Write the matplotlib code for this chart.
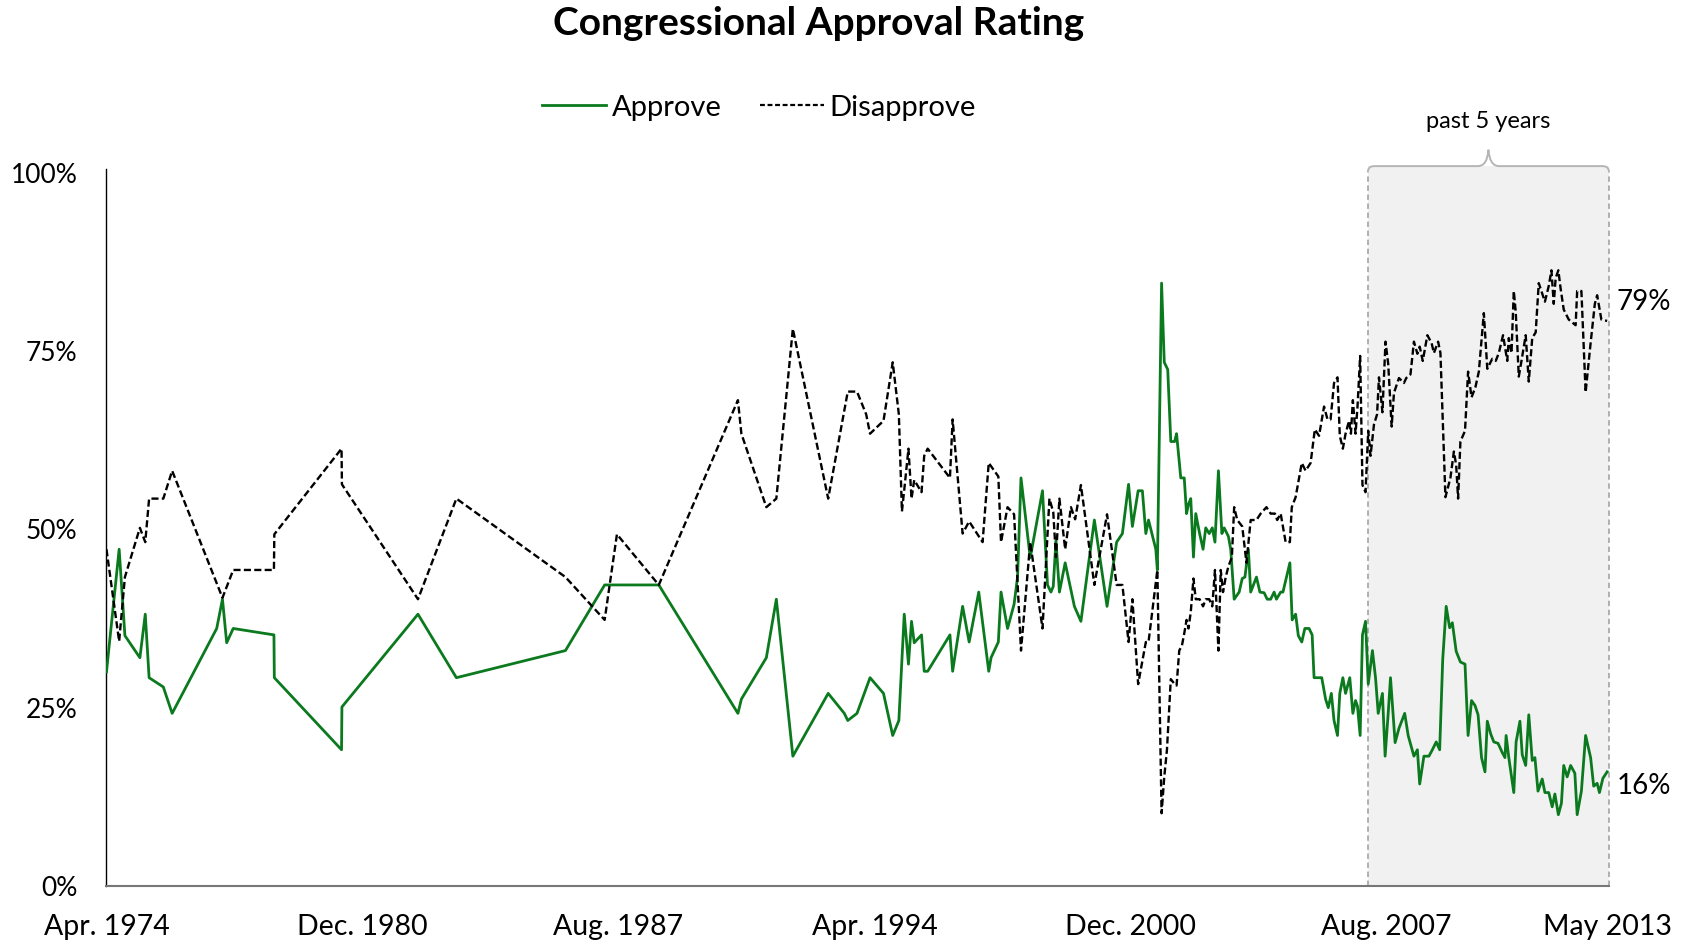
import matplotlib
matplotlib.use('Agg')
import matplotlib.pyplot as plt
from matplotlib.path import Path
from matplotlib.patches import PathPatch, Rectangle
from matplotlib.lines import Line2D

plt.rcParams.update({
    'font.family': 'Lato',
    'font.size': 19,
})

# ─── data (decimal years, percent) ───────────────────────────────────────────
approve_year = [
    1974.25, 1974.58, 1974.73, 1975.12, 1975.26, 1975.36, 1975.73, 1975.96,
    1977.12, 1977.27, 1977.38, 1977.55, 1978.61, 1978.62, 1980.37, 1980.38,
    1982.36, 1983.36, 1986.20, 1987.22, 1988.63,
    1990.69, 1990.78, 1991.43, 1991.69, 1992.12, 1993.04, 1993.46, 1993.55,
    1993.79, 1994.13, 1994.48, 1994.72, 1994.88,
    1995.02, 1995.13, 1995.21, 1995.28, 1995.47, 1995.54, 1995.63, 1996.21,
    1996.28, 1996.54, 1996.71, 1996.96, 1997.22, 1997.28, 1997.47, 1997.54,
    1997.71, 1997.88, 1997.97, 1998.06, 1998.30, 1998.62, 1998.75, 1998.84,
    1998.90, 1998.97, 1999.06, 1999.21, 1999.45, 1999.62, 1999.97, 2000.30,
    2000.55, 2000.70, 2000.86, 2000.96, 2001.11, 2001.22, 2001.31, 2001.38,
    2001.57, 2001.61, 2001.72, 2001.79, 2001.88, 2001.96, 2002.06, 2002.11,
    2002.22, 2002.31, 2002.37, 2002.42, 2002.48, 2002.55, 2002.61, 2002.71,
    2002.80, 2002.87, 2002.96, 2003.04, 2003.11, 2003.20, 2003.29, 2003.35,
    2003.46, 2003.52, 2003.61, 2003.74, 2003.82, 2003.89, 2003.98, 2004.04,
    2004.19, 2004.28, 2004.39, 2004.47, 2004.56, 2004.65, 2004.71, 2004.82,
    2004.88, 2005.06, 2005.12, 2005.21, 2005.28, 2005.37, 2005.45, 2005.56,
    2005.64, 2005.69, 2005.89, 2005.99, 2006.06, 2006.14, 2006.21, 2006.30,
    2006.36, 2006.44, 2006.51, 2006.62, 2006.70, 2006.77, 2006.82, 2006.89,
    2006.95, 2007.03, 2007.10, 2007.21, 2007.29, 2007.36, 2007.47, 2007.54,
    2007.62, 2007.68, 2007.80, 2007.90, 2008.05, 2008.14, 2008.29, 2008.38,
    2008.44, 2008.55, 2008.68, 2008.77, 2008.87, 2008.96, 2009.04, 2009.13,
    2009.22, 2009.29, 2009.39, 2009.50, 2009.62, 2009.70, 2009.79, 2009.88,
    2009.96, 2010.05, 2010.14, 2010.20, 2010.29, 2010.37, 2010.48, 2010.59,
    2010.66, 2010.69, 2010.76, 2010.89, 2010.95, 2011.05, 2011.11, 2011.20,
    2011.28, 2011.37, 2011.44, 2011.52, 2011.63, 2011.70, 2011.80, 2011.89,
    2011.96, 2012.05, 2012.13, 2012.19, 2012.28, 2012.37, 2012.48, 2012.54,
    2012.65, 2012.76, 2012.89, 2012.97, 2013.06, 2013.12, 2013.21, 2013.32,
]
approve_pct = [
    30.0, 47.2, 35.1, 32.0, 38.1, 29.2, 27.9, 24.2,
    36.1, 40.2, 34.1, 36.1, 35.2, 29.2, 19.1, 25.1,
    38.1, 29.2, 33.0, 42.2, 42.2,
    24.2, 26.2, 32.0, 40.2, 18.2, 27.0, 24.2, 23.2,
    24.2, 29.2, 27.0, 21.1, 23.2,
    38.1, 31.1, 37.1, 34.1, 35.2, 30.1, 30.1, 35.2,
    30.1, 39.2, 34.2, 41.2, 30.1, 32.0, 34.2, 41.2,
    36.1, 39.5, 43.3, 57.2, 46.0, 55.4, 42.2, 41.2,
    42.0, 48.4, 41.2, 45.3, 39.2, 37.1, 51.3, 39.2,
    48.2, 49.4, 56.3, 50.4, 55.4, 55.4, 49.4, 51.3,
    47.2, 44.3, 84.5, 73.4, 72.4, 62.3, 62.3, 63.4,
    57.2, 57.2, 52.2, 53.5, 54.3, 46.1, 52.2, 49.4,
    47.2, 50.2, 49.4, 50.2, 48.2, 58.2, 49.4, 50.2,
    49.0, 47.2, 40.2, 41.2, 43.1, 43.3, 47.2, 41.2,
    43.3, 41.2, 41.1, 40.2, 40.2, 41.2, 40.2, 41.2,
    41.2, 45.3, 37.3, 38.1, 35.1, 34.2, 36.1, 36.1,
    35.2, 29.2, 29.2, 26.2, 25.0, 27.0, 23.2, 21.1,
    27.0, 29.2, 27.0, 29.2, 24.2, 26.0, 25.2, 21.1,
    35.2, 37.1, 28.3, 33.0, 29.2, 24.2, 27.0, 18.2,
    24.2, 29.2, 20.1, 22.1, 24.2, 21.1, 18.2, 19.1,
    14.3, 18.2, 18.2, 19.1, 20.2, 19.1, 31.8, 39.2,
    36.2, 36.9, 32.9, 31.4, 31.1, 21.1, 26.0, 25.3,
    24.0, 18.0, 16.0, 23.1, 21.3, 20.2, 20.0, 18.7,
    18.0, 21.1, 18.0, 13.1, 20.2, 23.1, 18.4, 16.9,
    24.0, 17.6, 18.0, 13.3, 15.0, 13.1, 13.1, 11.1,
    12.9, 10.0, 11.6, 16.9, 15.3, 16.9, 15.8, 10.0,
    13.3, 21.1, 18.0, 14.0, 14.4, 13.1, 15.1, 16.0,
]

disapprove_year = [
    1974.25, 1974.58, 1974.73, 1975.12, 1975.26, 1975.36, 1975.73, 1975.96,
    1977.27, 1977.55, 1978.61, 1978.62, 1980.37, 1980.38,
    1982.36, 1983.36, 1986.20, 1987.22, 1987.54, 1988.63,
    1990.69, 1990.78, 1991.43, 1991.69, 1992.12, 1993.04, 1993.55, 1993.79,
    1994.03, 1994.13, 1994.48, 1994.72, 1994.88, 1994.96,
    1995.02, 1995.13, 1995.21, 1995.28, 1995.47, 1995.54, 1995.63, 1996.21,
    1996.28, 1996.54, 1996.71, 1997.06, 1997.22, 1997.47, 1997.54, 1997.71,
    1997.88, 1998.06, 1998.30, 1998.62, 1998.80, 1998.90, 1998.97, 1999.06,
    1999.21, 1999.36, 1999.47, 1999.62, 1999.97, 2000.30, 2000.55, 2000.70,
    2000.86, 2000.96, 2001.11, 2001.31, 2001.38, 2001.61, 2001.72, 2001.79,
    2001.86, 2001.96, 2002.06, 2002.11, 2002.18, 2002.25, 2002.31, 2002.37,
    2002.42, 2002.48, 2002.55, 2002.61, 2002.71, 2002.80, 2002.87, 2002.96,
    2003.04, 2003.11, 2003.20, 2003.26, 2003.32, 2003.39, 2003.46, 2003.55,
    2003.61, 2003.69, 2003.82, 2003.93, 2004.04, 2004.19, 2004.30, 2004.45,
    2004.56, 2004.67, 2004.73, 2004.82, 2004.95, 2005.06, 2005.11, 2005.21,
    2005.37, 2005.47, 2005.60, 2005.71, 2005.82, 2005.95, 2006.04, 2006.12,
    2006.21, 2006.30, 2006.36, 2006.44, 2006.51, 2006.60, 2006.65, 2006.70,
    2006.77, 2006.82, 2006.89, 2006.95, 2007.03, 2007.10, 2007.16, 2007.25,
    2007.33, 2007.38, 2007.47, 2007.55, 2007.62, 2007.71, 2007.77, 2007.90,
    2008.03, 2008.09, 2008.20, 2008.29, 2008.38, 2008.44, 2008.52, 2008.64,
    2008.75, 2008.81, 2008.92, 2008.98, 2009.11, 2009.24, 2009.33, 2009.39,
    2009.44, 2009.50, 2009.62, 2009.70, 2009.79, 2009.89, 2009.98, 2010.11,
    2010.20, 2010.33, 2010.42, 2010.50, 2010.61, 2010.72, 2010.76, 2010.83,
    2010.89, 2010.94, 2011.02, 2011.09, 2011.20, 2011.28, 2011.37, 2011.46,
    2011.54, 2011.70, 2011.80, 2011.87, 2011.93, 2011.98, 2012.05, 2012.11,
    2012.19, 2012.32, 2012.50, 2012.54, 2012.65, 2012.76, 2012.89, 2013.00,
    2013.06, 2013.17, 2013.32,
]
disapprove_pct = [
    47.2, 34.3, 43.3, 50.2, 48.2, 54.3, 54.3, 58.2,
    40.4, 44.3, 44.3, 49.3, 61.3, 56.3,
    40.2, 54.3, 43.3, 37.3, 49.3, 42.2,
    68.1, 63.4, 53.1, 54.3, 78.1, 54.3, 69.3, 69.3,
    66.1, 63.4, 65.2, 73.4, 66.1, 52.5,
    55.5, 61.3, 54.3, 56.9, 55.2, 60.3, 61.3, 57.2,
    65.4, 49.4, 51.1, 48.2, 59.3, 57.4, 48.2, 53.1,
    52.1, 33.0, 48.2, 36.1, 54.3, 52.4, 46.1, 54.3,
    47.2, 53.1, 51.4, 56.2, 42.2, 52.1, 42.2, 42.2,
    34.2, 40.2, 28.3, 34.2, 34.2, 44.3, 10.2, 15.3,
    19.1, 29.0, 28.3, 28.1, 33.0, 33.7, 35.4, 37.3,
    36.1, 38.4, 43.1, 40.2, 40.2, 39.2, 40.2, 40.2,
    39.2, 44.3, 33.0, 44.3, 41.2, 43.3, 44.8, 46.1,
    53.1, 51.3, 50.4, 45.3, 51.3, 51.3, 52.2, 53.1,
    52.2, 52.2, 51.3, 52.2, 48.2, 48.2, 53.1, 54.5,
    59.3, 58.2, 59.3, 64.0, 63.1, 67.2, 65.4, 65.4,
    70.5, 71.3, 63.1, 61.3, 63.4, 65.2, 63.4, 68.1,
    63.4, 67.1, 74.3, 56.2, 55.2, 63.8, 60.3, 64.7,
    66.1, 71.3, 66.4, 76.3, 73.2, 64.4, 69.1, 71.2,
    70.5, 71.2, 71.7, 76.3, 74.6, 75.6, 73.6, 77.2,
    76.1, 74.7, 76.3, 74.7, 54.5, 57.2, 60.9, 59.0,
    54.3, 62.3, 63.8, 72.1, 68.5, 69.9, 72.1, 80.3,
    72.5, 73.9, 73.6, 74.7, 77.2, 73.6, 76.8, 74.7,
    83.4, 80.5, 71.4, 73.6, 77.2, 70.7, 76.8, 77.6,
    84.5, 81.9, 84.1, 86.3, 81.6, 85.2, 86.3, 83.7,
    80.8, 79.4, 78.6, 83.4, 83.4, 69.2, 76.1, 81.6,
    82.8, 79.4, 79.2,
]

tick_years = [1974.25, 1980.92, 1987.58, 1994.25, 2000.92, 2007.58, 2013.33]
tick_labels = ['Apr. 1974', 'Dec. 1980', 'Aug. 1987', 'Apr. 1994',
               'Dec. 2000', 'Aug. 2007', 'May 2013']
y_ticks = [0, 25, 50, 75, 100]
y_labels = ['0%', '25%', '50%', '75%', '100%']

GREEN = '#0b7a1f'
X0, X1 = 1974.25, 2013.37
BOX_START = 2007.09

# ─── figure ──────────────────────────────────────────────────────────────────
fig = plt.figure(figsize=(16.9, 9.44), dpi=100)
ax = fig.add_axes([0.063, 0.0614, 0.8891, 0.7596])

ax.plot(approve_year, approve_pct, color=GREEN, lw=2.0, zorder=3)
ax.plot(disapprove_year, disapprove_pct, color='black', lw=1.7,
        dashes=(3.0, 1.4), zorder=3)

ax.set_xlim(X0, X1)
ax.set_ylim(0, 100.5)
ax.set_xticks(tick_years)
ax.set_xticklabels(tick_labels, fontsize=20.5)
ax.set_yticks(y_ticks)
ax.set_yticklabels(y_labels, fontsize=19)
ax.tick_params(axis='both', length=0)
ax.tick_params(axis='y', pad=21)
ax.tick_params(axis='x', pad=20)

for s in ['top', 'right']:
    ax.spines[s].set_visible(False)
ax.spines['left'].set_color('black')
ax.spines['left'].set_linewidth(1.0)
ax.spines['bottom'].set_color('#777777')
ax.spines['bottom'].set_linewidth(1.5)

# ─── "past 5 years" box ──────────────────────────────────────────────────────
y_top = 100.9
rx, ry = 0.16, 0.9
xc = (BOX_START + X1) / 2
ax.add_patch(Rectangle((BOX_START, 0), X1 - BOX_START, y_top,
                       facecolor='#f1f1f1', edgecolor='none', zorder=0,
                       clip_on=False))
for xv in [BOX_START, X1]:
    ax.plot([xv, xv], [0, y_top - ry], color='#aaaaaa', lw=1.3,
            dashes=(3, 2), zorder=1, clip_on=False)

bw = 0.14
tip = 103.2
verts = [
    (BOX_START, y_top - ry), (BOX_START, y_top), (BOX_START + rx, y_top),
    (xc - 2 * bw, y_top),
    (xc - bw * 0.2, y_top), (xc, tip),
    (xc + bw * 0.2, y_top), (xc + 2 * bw, y_top),
    (X1 - rx, y_top), (X1, y_top), (X1, y_top - ry),
]
codes = [Path.MOVETO, Path.CURVE3, Path.CURVE3,
         Path.LINETO,
         Path.CURVE3, Path.CURVE3,
         Path.CURVE3, Path.CURVE3,
         Path.LINETO, Path.CURVE3, Path.CURVE3]
ax.add_patch(PathPatch(Path(verts, codes), facecolor='none',
                       edgecolor='#b5b5b5', lw=1.4, zorder=1, clip_on=False))
ax.text(xc, 107.2, 'past 5 years', ha='center', va='center', fontsize=17,
        clip_on=False)

# ─── end labels ──────────────────────────────────────────────────────────────
ax.text(X1 + 0.2, disapprove_pct[-1] + 2.6, f'{disapprove_pct[-1]:.0f}%',
        ha='left', va='center', fontsize=20, clip_on=False)
ax.text(X1 + 0.2, approve_pct[-1] - 2.0, f'{approve_pct[-1]:.0f}%',
        ha='left', va='center', fontsize=20, clip_on=False)

# ─── title + legend ──────────────────────────────────────────────────────────
fig.text(0.4845, 0.975, 'Congressional Approval Rating', ha='center',
         va='center', fontsize=28, fontweight='bold')
handles = [Line2D([], [], color=GREEN, lw=2.0),
           Line2D([], [], color='black', lw=1.6, dashes=(2.2, 1.2))]
fig.legend(handles, ['Approve', 'Disapprove'], loc='center',
           bbox_to_anchor=(0.449, 0.886), ncol=2, frameon=False,
           fontsize=21, handlelength=2.2, handletextpad=0.2,
           columnspacing=1.3)

fig.savefig('out.png', dpi=100)
